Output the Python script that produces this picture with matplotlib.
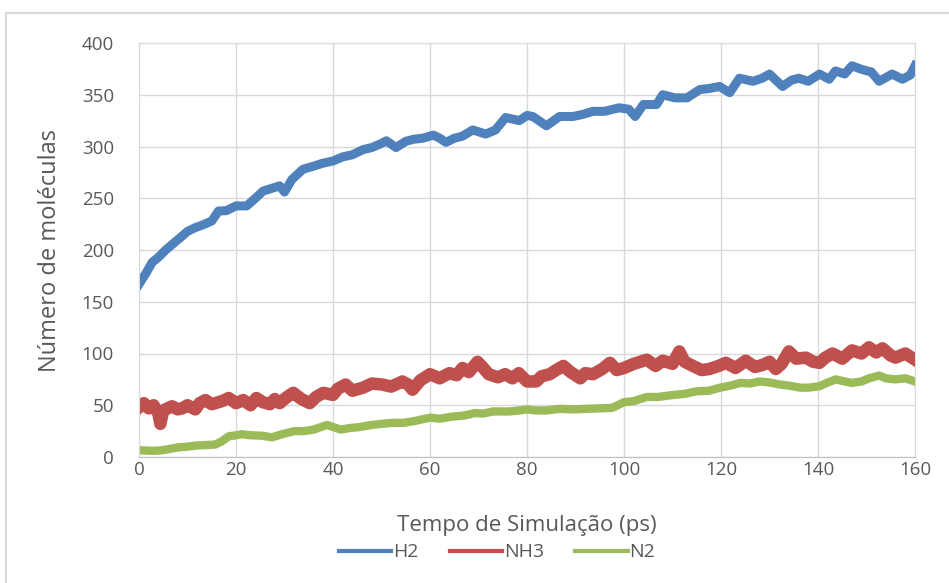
import matplotlib
matplotlib.use('Agg')
import matplotlib.pyplot as plt
from matplotlib.patches import Rectangle

plt.rcParams['font.family'] = ['Open Sans', 'DejaVu Sans']

# Simulation time (ps) and molecule counts for each species
t_h2 = [0, 1.5, 2.7, 4, 5.5, 7, 8.9, 10, 11.6, 13,
        15, 16.4, 18, 20, 22.2, 24, 25.6, 27, 29, 30,
        31.5, 33.8, 36, 38, 40, 42, 44, 46.2, 48, 50,
        51, 53, 55, 56.6, 58.5, 60.7, 62, 63.3, 65, 66.7,
        68.8, 71.5, 73.5, 75.6, 78.4, 80, 81.2, 84, 86.7, 89.5,
        91.5, 93.6, 96, 99, 101, 102.3, 104, 106.7, 108, 110.5,
        113, 115.6, 117.5, 119.7, 121.8, 123.8, 126.6, 128.5, 130, 132.7,
        134.5, 136, 138, 140.3, 142.3, 143.6, 145.5, 147, 149, 151,
        152.6, 155.3, 157.4, 159, 160]
h2 = [167, 178, 188, 193, 200, 206, 213.5, 218, 221.6, 224,
      228, 237.7, 238, 242.6, 242.6, 250, 257, 259, 262, 256,
      268, 278, 281, 284, 286, 290, 292, 297, 299, 303,
      305.5, 299, 305, 307, 308, 311, 308, 304, 308, 310,
      316, 312, 316, 328, 325, 330, 329, 320, 329, 329,
      331, 334, 334, 337.4, 336, 329, 340.6, 340.6, 350, 347,
      347, 355, 356, 358, 352, 366, 363, 366, 370, 358,
      364, 366, 363, 370, 365, 373, 370, 378, 374.5, 372,
      363, 370, 365, 369, 378]

t_nh3 = [0, 1, 2, 3, 4, 4.4, 5, 6.8, 8, 8.9,
         10, 11.6, 12.5, 13.7, 15, 17.1, 18.5, 20, 21.5, 23,
         24.2, 25.5, 27, 28, 29, 30.5, 31.8, 33.5, 35.2, 36.5,
         38, 40, 41, 42.6, 44, 46.2, 48, 50.2, 52, 54.3,
         55.5, 56.4, 58, 60, 62, 64, 65.5, 66.7, 68, 69.8,
         71, 72.1, 74, 75.5, 77, 78.3, 80, 81.9, 83, 84.7,
         86, 87.5, 89, 91, 92, 93.6, 95.5, 97.1, 98.5, 100,
         102, 104.7, 106.5, 108, 110, 111.4, 112.5, 114.2, 116, 117.6,
         119.5, 121, 123, 125.1, 127, 128.6, 130, 131.3, 132.5, 134,
         135.5, 137.5, 139, 140.3, 141.5, 143, 145, 147, 149, 150.5,
         152, 153.3, 155, 156, 158, 160]
nh3 = [48, 52, 47, 50, 42, 32, 45, 49, 46, 47,
       50, 46, 52, 55, 51, 54, 57, 52, 55, 50,
       57, 53, 51, 56, 52, 58, 62, 56, 52, 58,
       62, 60, 66, 70, 64, 67, 71, 70, 68, 73,
       70, 65, 74, 80, 76, 81, 79, 86, 82, 92,
       86, 80, 77, 80, 76, 81, 73, 73, 78, 80,
       84, 88, 82, 76, 81, 80, 85, 91, 84, 86,
       90, 94, 88, 93, 90, 102, 92, 88, 84, 85,
       88, 91, 86, 93, 87, 89, 92, 85, 90, 102,
       95, 96, 92, 91, 96, 100, 95, 103, 100, 106,
       101, 105, 98, 96, 100, 94]

t_n2 = [0, 3, 4.8, 6.5, 8.2, 10, 11.6, 13.5, 15.7, 17,
        18.5, 20, 21.2, 23, 25.3, 27.4, 29.5, 32, 34, 36,
        38.8, 40, 41.6, 43.5, 45.6, 48, 50, 52.4, 54.5, 56.5,
        58, 60, 62, 64.5, 67, 69.3, 71, 73, 76.3, 78.5,
        80, 81.9, 84, 86.7, 89.5, 92.2, 95, 97.6, 100, 102,
        104.7, 107, 110.2, 112.5, 115, 117.5, 119.8, 122, 124, 126,
        128, 130, 132.2, 134, 136.3, 138, 140.3, 142, 143.7, 145.5,
        147, 149, 150.5, 152.6, 154, 156, 158, 160]
n2 = [6.5, 6, 6.5, 8, 9.4, 10, 11, 11.5, 12, 15,
      20, 21, 22, 21, 20.6, 19, 22, 25, 25, 26.5,
      31, 29, 26.5, 28, 29, 31, 32, 33, 33, 34.5,
      36, 38, 37, 39, 40, 42.5, 42, 44, 44, 45,
      46, 45, 45, 46.5, 46, 46.5, 47, 47.5, 53, 54,
      58, 58, 60, 61, 63.5, 64, 67, 69, 71.6, 71,
      73, 72, 70, 69, 67, 67, 68.4, 72, 75, 73,
      71.6, 73, 76, 78.7, 76, 75, 76, 73]

x_ticks = [0, 20, 40, 60, 80, 100, 120, 140, 160]
y_ticks = [0, 50, 100, 150, 200, 250, 300, 350, 400]

text_color = '#595959'
grid_color = '#d9d9d9'

fig = plt.figure(figsize=(9.49, 5.83), dpi=100)

# outer chart frame
fig.patches.append(Rectangle((6 / 949, -0.05), 1.0, 1 - 13 / 583 + 0.05,
                             transform=fig.transFigure, fill=False,
                             edgecolor='#d9d9d9', linewidth=1.5))

ax = fig.add_axes([139 / 949, 1 - 457 / 583, 776 / 949, 414 / 583])

ax.plot(t_h2, h2, color='#4f81bd', linewidth=6.5, solid_joinstyle='round', label='H2')
ax.plot(t_nh3, nh3, color='#c0504d', linewidth=9, solid_joinstyle='round', label='NH3')
ax.plot(t_n2, n2, color='#9bbb59', linewidth=6, solid_joinstyle='round', label='N2')

ax.set_xlim(0, 160)
ax.set_ylim(0, 400)
ax.set_xticks(x_ticks)
ax.set_yticks(y_ticks)
ax.grid(True, color=grid_color, linewidth=1)
ax.set_axisbelow(True)
for side in ['top', 'right', 'left']:
    ax.spines[side].set_color(grid_color)
ax.spines['bottom'].set_color('#bfbfbf')
ax.tick_params(length=0, labelsize=13.5, labelcolor=text_color)
ax.tick_params(axis='x', pad=3)
ax.tick_params(axis='y', pad=18)

ax.set_xlabel('Tempo de Simulação (ps)', fontsize=16, color=text_color, labelpad=26)
ax.set_ylabel('Número de moléculas', fontsize=17, color=text_color, labelpad=14)

fig.legend(loc='center', bbox_to_anchor=(497 / 949, 1 - 552 / 583), ncol=3,
           frameon=False, fontsize=14, labelcolor=text_color,
           handlelength=2.7, handletextpad=0.1, columnspacing=1.6,
           handleheight=0.4, borderpad=0)
for line in fig.legends[0].get_lines():
    line.set_linewidth(3)

fig.savefig('out.png', dpi=100)
